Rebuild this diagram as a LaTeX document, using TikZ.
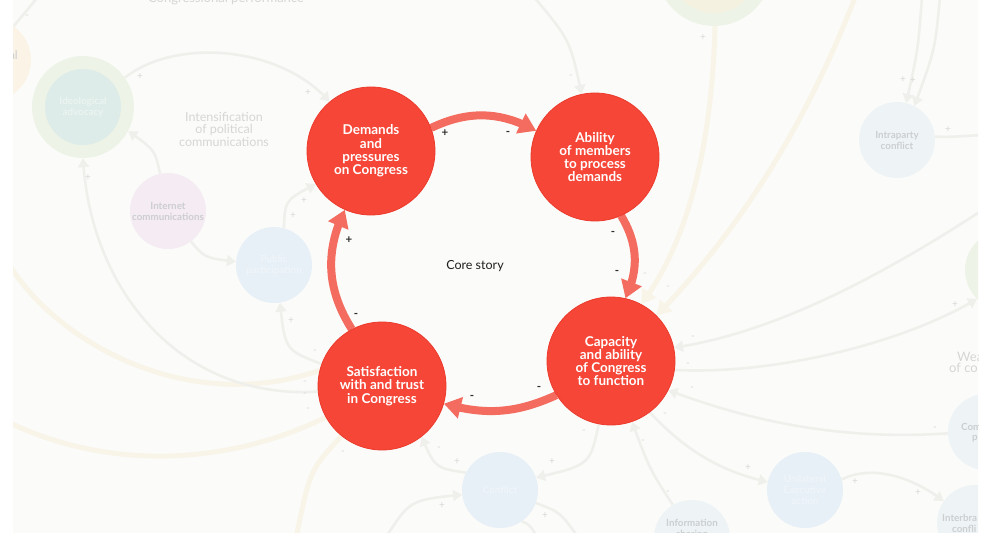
\documentclass[tikz,border=0pt]{standalone}
\usepackage{fontspec}
\setmainfont{Lato}
\usetikzlibrary{arrows.meta,bending}
\definecolor{bgc}{RGB}{251,251,249}
\definecolor{mainred}{RGB}{245,70,55}
\definecolor{mainedge}{RGB}{236,58,44}
\definecolor{arrowc}{RGB}{243,108,95}
\definecolor{signc}{RGB}{45,45,45}
\definecolor{flinec}{RGB}{239,239,236}
\definecolor{ylinec}{RGB}{249,244,232}
\definecolor{fsignc}{RGB}{216,216,214}
\definecolor{ftextc}{RGB}{214,214,214}
\definecolor{flabc}{RGB}{204,206,208}
\definecolor{peachc}{RGB}{251,243,229}
\definecolor{greenc}{RGB}{237,243,231}
\definecolor{tealc}{RGB}{221,236,232}
\definecolor{pinkc}{RGB}{245,235,242}
\definecolor{bluec}{RGB}{231,240,247}
\definecolor{paleblc}{RGB}{238,244,246}
\definecolor{yelc}{RGB}{244,241,224}
\definecolor{wlabc}{RGB}{240,245,249}
\pgfdeclarelayer{back}
\pgfdeclarelayer{mid}
\pgfsetlayers{back,mid,main}
\tikzset{
  maincirc/.style={circle, fill=mainred, draw=mainedge, line width=0.8pt,
    minimum size=128pt, inner sep=0pt, text=white, align=center,
    font=\fontsize{13.5}{13.3}\selectfont\bfseries},
  mainarr/.style={draw=arrowc, line width=8pt, -{Triangle[length=17pt,width=21pt]}},
  msign/.style={font=\fontsize{11.5}{11.5}\selectfont\bfseries, text=signc, inner sep=0pt},
  fline/.style={draw=flinec, line width=2.6pt},
  farr/.style={fline, -{Triangle[length=9pt,width=11pt]}},
  yline/.style={draw=ylinec, line width=5pt},
  yarr/.style={yline, -{Triangle[length=14pt,width=16pt]}},
  fsign/.style={font=\fontsize{10}{10}\selectfont, text=fsignc, inner sep=0pt},
  fcirc/.style={circle, minimum size=76pt, inner sep=0pt, align=center,
    font=\fontsize{9.8}{11}\selectfont\bfseries},
  ftext/.style={text=ftextc, align=center, font=\fontsize{12.5}{12.5}\selectfont, inner sep=0pt},
  flab/.style={text=flabc, font=\fontsize{9.8}{11}\selectfont\bfseries, inner sep=0pt},
}
\begin{document}
\begin{tikzpicture}[x=1pt,y=-1pt]
\useasboundingbox (0,0) rectangle (986,533);

% ---------- main circles ----------
\node[maincirc] (dem) at (371,151) {Demands\\and\\pressures\\on Congress};
\node[maincirc] (abl) at (595,157) {Ability\\of members\\to process\\demands};
\node[maincirc] (cap) at (611,361) {Capacity\\and ability\\of Congress\\to function};
\node[maincirc] (sat) at (382,386) {Satisfaction\\with and trust\\in Congress};
\node[font=\fontsize{12.5}{14}\selectfont, text=black!88, inner sep=0pt] (core) at (475,266) {Core story};

% ---------- main arrows ----------
\begin{pgfonlayer}{mid}
\draw[mainarr] (dem.21) to[bend left=27] (abl.156);
\draw[mainarr] (abl.-66) to[bend left=28] (cap.77);
\draw[mainarr] (cap.212) to[bend left=20] (sat.-16);
\draw[mainarr] (sat.118) to[bend left=29] (dem.246);
\end{pgfonlayer}

\foreach \x/\y/\s [count=\i] in {445/133/+, 508/133/-, 613/233/-, 617/272/-,
  539/388/-, 472/397/-, 349/240/+, 356/315/-}
  \node[msign] (ms\i) at (\x,\y) {\s};

% ---------- faded background ----------
\begin{pgfonlayer}{back}
\fill[white] (0,0) rectangle (986,533);
\fill[bgc] (13,0) rectangle (978,533);
\begin{scope}
\clip (13,0) rectangle (978,533);

\node[fcirc, fill=peachc, minimum size=82pt] (peach) at (-10,60) {};
\node[flab, font=\fontsize{12}{12}\selectfont, anchor=east] (peachlab) at (18,55) {al};
\node[fcirc, fill=greenc, minimum size=102pt] (ideo) at (83,107) {};
\node[fcirc, fill=tealc, text=white!40!tealc] (ideoin) at (83,107) {Ideological\\advocacy};
\node[fcirc, fill=pinkc, text=flabc] (inet) at (168,211) {Internet\\communications};
\node[fcirc, fill=bluec, text=wlabc] (pub) at (274,265) {Public\\participation};
\node[fcirc, fill=paleblc, text=flabc] (intra) at (897,140) {Intraparty\\conflict};
\node[fcirc, fill=greenc, minimum size=116pt] (topc) at (714,-32) {};
\node[fcirc, fill=yelc, minimum size=90pt] (topin) at (714,-32) {};
\node[fcirc, fill=greenc, minimum size=80pt] (rgreen) at (1005,270) {};
\node[fcirc, fill=paleblc] (comp) at (986,432) {};
\node[fcirc, fill=paleblc] (interb) at (975,523) {};
\node[fcirc, fill=bluec, text=wlabc] (unil) at (805,490) {Unilateral\\Executive\\action};
\node[fcirc, fill=paleblc] (info) at (692,538) {};
\node[fcirc, fill=bluec, text=wlabc] (confl) at (500,490) {Conflict};

\node[flab, align=center] (infolab) at (692,529) {Information\\sharing};
\node[flab, anchor=west] (comlab) at (961,427) {Com};
\node[flab, anchor=west] (plab) at (972,439) {p};
\node[flab, anchor=west] (ibl1) at (942,518) {Interbra};
\node[flab, anchor=west] (ibl2) at (952,529) {confli};

\node[ftext, font=\fontsize{13}{13}\selectfont] (cperf) at (226,-1) {Congressional performance};
\node[ftext] (intens) at (224,129) {Intensification\\of political\\communications};
\node[ftext, anchor=west, font=\fontsize{13}{13}\selectfont] (wea1) at (957,357) {Wea};
\node[ftext, anchor=west, font=\fontsize{13}{13}\selectfont] (wea2) at (949,368) {of co};

% free ends
\coordinate (tlc) at (38,-3);
\coordinate (ttop) at (534,-3);
\coordinate (ip1) at (922,-3);
\coordinate (ip2) at (940,-3);
\coordinate (ipr) at (981,135);
\coordinate (r1) at (981,211);
\coordinate (ll1) at (386,537);
\coordinate (lr1) at (578,537);
\coordinate (lr2) at (537,537);
\coordinate (y1s) at (10,266);
\coordinate (y2s) at (10,423);
\coordinate (y3e) at (296,538);
\coordinate (y5s) at (856,-5);

% yellow connectors
\draw[yline] (y1s) .. controls (60,345) and (190,415) .. (sat.166);
\draw[yline] (y2s) .. controls (120,475) and (240,460) .. (sat.209);
\draw[yline] (sat.231) .. controls (310,470) .. (y3e);
\draw[yarr] (topc.-89) .. controls (712,140) and (690,240) .. (cap.62);
\draw[yarr] (y5s) .. controls (800,140) and (730,240) .. (cap.45);

% grey connectors
\draw[fline] (tlc) -- (peach.55);
\draw[farr] (ideo.35) .. controls (175,38) and (280,45) .. (dem.130);
\draw[farr] (inet.102) .. controls (155,150) .. (ideo.-28);
\draw[farr] (sat.185) .. controls (180,400) and (90,290) .. (ideo.-90);
\draw[farr] (inet.-53) .. controls (205,258) .. (pub.175);
\draw[farr] (pub.75) .. controls (285,200) .. (dem.211);
\draw[farr] (sat.160) .. controls (285,350) .. (pub.-81);
\draw[farr] (ttop) .. controls (570,40) .. (abl.102);
\draw[farr] (ip1) .. controls (918,50) .. (intra.76);
\draw[farr] (ip2) .. controls (935,50) .. (intra.63);
\draw[fline] (intra.5) .. controls (950,137) .. (ipr);
\draw[farr] (r1) .. controls (860,290) and (760,335) .. (cap.12);
\draw[farr] (cap.-8) .. controls (770,375) and (900,345) .. (rgreen.226);
\draw[farr] (comp.182) .. controls (850,440) and (760,425) .. (cap.-27);
\draw[farr] (cap.-53) .. controls (690,455) and (725,472) .. (unil.168);
\draw[farr] (unil.16) .. controls (870,465) and (910,475) .. (interb.145);
\draw[farr] (info.120) .. controls (650,470) .. (cap.-71);
\draw[farr] (cap.-101) .. controls (590,465) .. (confl.19);
\draw[farr] (confl.153) .. controls (435,468) .. (sat.-52);
\draw[farr] (ll1) .. controls (410,500) .. (confl.187);
\draw[fline] (confl.-20) .. controls (560,512) .. (lr1);
\draw[fline] (confl.-55) .. controls (530,525) .. (lr2);

\foreach \x/\y/\s [count=\i] in {140/77/+, 308/93/+, 27/17/-, 88/178/+, 305/383/-,
  293/216/+, 304/201/+, 291/321/+, 315/352/-, 571/77/-, 903/80/+, 913/81/+,
  948/130/+, 703/38/+, 645/275/-, 668/288/-, 693/338/-, 688/365/-, 955/305/+,
  935/429/-, 692/389/-, 665/415/-, 748/468/+, 855/482/+, 918/493/+, 668/493/-,
  643/442/-, 584/432/-, 552/462/+, 457/462/+, 439/449/-, 442/506/+, 545/516/+,
  343/453/-, 305/395/-, 308/410/-}
  \node[fsign] (fs\i) at (\x,\y) {\s};
\end{scope}
\end{pgfonlayer}
\end{tikzpicture}
\end{document}
